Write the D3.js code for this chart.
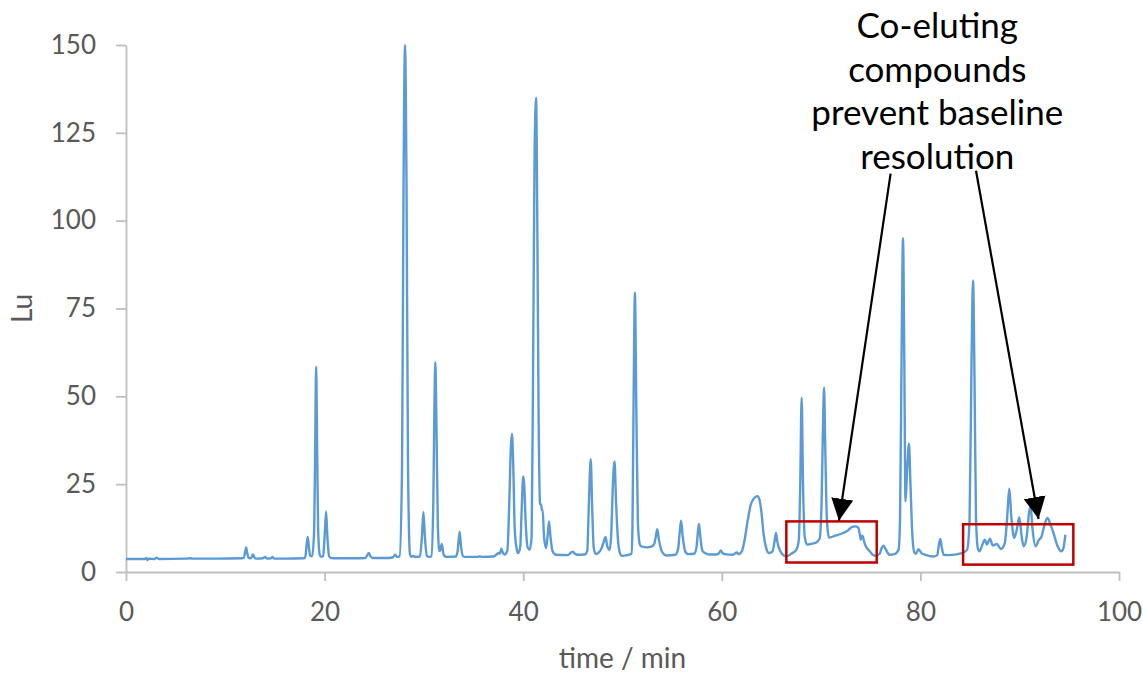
<!DOCTYPE html>
<html>
<head>
<meta charset="utf-8">
<script src="https://cdn.jsdelivr.net/npm/d3@7"></script>
<style>
  body { margin: 0; background: #fff; }
  svg text { font-family: Lato, "Open Sans", sans-serif; }
</style>
</head>
<body>
<div id="chart"></div>
<script>
// Chromatogram trace: [time (min), signal (Lu)]
const trace = [
  [0, 3.7], [1.9, 3.7], [2.05, 4.0], [2.15, 3.4], [2.3, 3.8], [2.9, 3.7], [3.1, 4.1], [3.3, 3.7],
  [6.0, 3.8], [6.5, 3.9], [6.7, 3.8], [9.0, 3.8], [11.7, 3.9],
  [11.85, 4.0], [12.0, 5.8], [12.1, 7.0], [12.2, 5.5], [12.35, 4.0], [12.5, 3.9],
  [12.65, 4.2], [12.78, 5.0], [12.9, 4.3], [13.1, 3.8],
  [13.8, 3.9], [14.0, 4.3], [14.2, 3.8], [14.6, 3.9], [14.75, 4.3], [14.9, 3.8], [16.0, 3.8], [17.9, 3.9],
  [18.05, 4.2], [18.2, 8.0], [18.3, 10.0], [18.42, 7.0], [18.55, 4.6], [18.75, 4.5],
  [18.95, 12], [19.05, 35], [19.15, 58.4], [19.25, 35], [19.35, 12], [19.5, 5.0], [19.65, 4.3],
  [19.85, 4.6], [20.0, 10], [20.15, 17.2], [20.28, 10], [20.45, 4.6], [20.6, 4.0],
  [21.5, 3.9], [23.0, 3.9], [24.1, 4.0], [24.3, 4.8], [24.45, 5.4], [24.6, 4.6], [24.8, 4.0],
  [26.5, 4.0], [26.9, 4.2], [27.1, 4.9], [27.3, 4.3],
  [27.55, 4.5], [27.8, 30], [27.95, 110], [28.1, 150], [28.25, 110], [28.4, 30], [28.6, 5.0],
  [28.75, 4.3], [28.95, 4.6], [29.1, 4.3],
  [29.6, 4.4], [29.8, 10], [29.95, 17.1], [30.1, 10], [30.3, 4.6], [30.5, 4.3],
  [30.75, 4.5], [30.95, 20], [31.05, 45], [31.15, 59.7], [31.25, 45], [31.4, 14], [31.55, 6.0],
  [31.65, 6.2], [31.8, 8.0], [32.0, 4.8], [32.3, 4.3], [33.2, 4.4],
  [33.4, 6.0], [33.6, 11.5], [33.75, 7.0], [33.95, 4.5], [34.2, 4.3], [35.5, 4.3], [35.6, 4.5], [35.8, 4.3],
  [37.0, 4.4], [37.4, 5.2], [37.5, 5.4], [37.65, 5.2], [37.8, 6.6], [37.95, 5.5], [38.1, 5.0],
  [38.4, 6.0], [38.6, 20], [38.75, 35], [38.87, 39.3], [39.0, 30], [39.15, 12], [39.35, 6.5], [39.5, 5.4],
  [39.7, 7.0], [39.85, 18], [40.0, 27.2], [40.1, 25], [40.25, 14], [40.45, 7.0], [40.65, 6.3],
  [40.85, 10], [41.0, 60], [41.15, 120], [41.3, 135], [41.42, 100], [41.55, 45], [41.7, 19.5],
  [41.8, 19.1], [41.88, 17.6], [41.95, 17.8], [42.1, 10], [42.3, 6.8],
  [42.45, 10], [42.6, 14.4], [42.75, 10], [42.95, 6.0], [43.3, 4.9], [44.5, 4.8], [44.8, 5.5], [45.0, 5.8],
  [45.2, 5.2], [45.5, 4.9], [46.2, 5.0],
  [46.45, 6.0], [46.62, 20], [46.8, 32.1], [46.95, 18], [47.1, 7.0], [47.3, 5.1], [47.6, 5.5], [47.9, 6.8],
  [48.1, 8.5], [48.3, 10.0], [48.45, 7.5], [48.7, 6.3],
  [48.85, 10], [49.05, 26], [49.2, 31.5], [49.35, 20], [49.55, 9.0], [49.75, 5.3], [49.9, 4.6], [50.5, 4.8], [50.9, 5.2],
  [51.0, 12], [51.12, 50], [51.25, 79.5], [51.38, 50], [51.55, 14], [51.75, 7.8], [51.9, 7.3], [52.5, 7.0],
  [52.9, 7.2], [53.2, 8.0],
  [53.35, 10], [53.5, 12.2], [53.65, 9.5], [53.9, 6.3], [54.2, 5.0], [54.5, 4.7], [55.3, 4.9],
  [55.6, 6.5], [55.75, 11], [55.9, 14.6], [56.05, 10.5], [56.3, 6.0], [56.6, 5.1], [57.2, 5.2],
  [57.45, 7.0], [57.58, 11], [57.7, 13.7], [57.82, 10.5], [58.05, 6.0], [58.3, 5.4], [58.8, 5.0],
  [59.5, 5.0], [59.7, 5.3], [59.9, 6.1], [60.1, 5.3], [60.5, 5.0], [61.0, 4.9], [61.3, 5.2], [61.5, 5.6],
  [61.7, 5.1], [62.0, 5.8], [62.3, 9.2], [62.6, 14.5], [62.9, 19], [63.2, 20.8], [63.6, 21.6], [63.8, 20.5],
  [64.0, 16.8], [64.2, 11], [64.45, 7.0], [64.75, 5.4], [65.1, 5.8], [65.3, 8.5], [65.46, 11.1], [65.6, 8.5],
  [65.9, 5.9], [66.2, 4.8], [66.5, 4.4], [67.0, 5.2], [67.5, 6.3], [67.75, 9.0],
  [67.9, 25], [68.04, 49.6], [68.18, 25], [68.35, 10], [68.6, 7.8], [69.0, 8.0], [69.5, 8.4], [69.85, 9.5],
  [70.05, 20], [70.18, 40], [70.3, 52.5], [70.42, 35], [70.6, 14], [70.8, 9.8],
  [71.5, 10.4], [72.2, 11.1], [72.7, 11.8], [73.1, 12.8], [73.4, 13.0], [73.7, 12.8], [73.85, 11.5],
  [74.0, 9.2], [74.1, 10.3], [74.2, 10.1], [74.35, 8.5], [74.5, 7.3], [74.7, 6.5], [74.9, 5.9], [75.2, 4.9],
  [75.5, 4.6], [75.9, 5.2], [76.1, 6.8], [76.3, 7.5], [76.5, 6.5], [76.9, 4.9], [77.4, 5.1], [77.8, 6.3],
  [77.95, 15], [78.1, 60], [78.25, 95], [78.38, 60], [78.5, 20.1], [78.65, 28], [78.85, 36.5], [79.0, 25],
  [79.2, 10], [79.4, 5.5], [79.55, 5.2], [79.8, 6.5], [80.1, 5.4], [80.5, 4.9], [81.3, 4.4],
  [81.7, 4.8], [81.85, 7.5], [82.0, 9.4], [82.15, 7.0], [82.35, 4.9], [82.8, 4.8], [84.2, 5.4], [84.7, 6.3],
  [84.95, 15], [85.15, 60], [85.3, 83], [85.45, 55], [85.6, 15], [85.8, 6.5], [85.95, 5.9],
  [86.2, 7.5], [86.5, 9.2], [86.7, 7.8], [87.0, 9.5], [87.3, 7.5], [87.7, 8.0], [88.1, 6.5], [88.5, 8.2],
  [88.75, 16], [88.95, 23.7], [89.15, 16], [89.45, 9.7], [89.7, 12], [89.96, 15.6], [90.2, 10], [90.4, 7.3],
  [90.7, 10], [90.95, 17], [91.1, 18.5], [91.3, 12], [91.6, 7.3], [91.9, 9.0], [92.2, 10.1], [92.5, 13.5],
  [92.8, 15.4], [93.1, 13.5], [93.4, 11.1], [93.8, 7.5], [94.2, 5.9], [94.4, 6.8], [94.6, 10.6]
];

const xTicks = [0, 20, 40, 60, 80, 100];
const yTicks = [0, 25, 50, 75, 100, 125, 150];

// Boxes around the poorly resolved regions: [t0, t1, lu0, lu1]
const boxes = [
  [66.5, 75.6, 2.7, 14.4],
  [84.3, 95.4, 2.1, 13.6]
];

// Arrows from the note down to each box: [tStart, luStart, tEnd, luEnd]
const arrows = [
  [77.0, 113.4, 71.8, 14.6],
  [85.6, 114.2, 91.9, 15.1]
];

const noteLines = ["Co-eluting", "compounds", "prevent baseline", "resolution"];

const width = 1143, height = 675;
const margin = { top: 45, right: 24, bottom: 103, left: 126 };

const svg = d3.select("#chart")
  .append("svg")
  .attr("width", width)
  .attr("height", height);

const x = d3.scaleLinear()
  .domain([0, 100])
  .range([margin.left, width - margin.right]);

const y = d3.scaleLinear()
  .domain([0, 150])
  .range([height - margin.bottom, margin.top]);

const axisColor = "#bfbfbf";
const labelColor = "#595959";

// y axis
const yAxis = svg.append("g")
  .attr("transform", "translate(" + margin.left + ",0)")
  .call(d3.axisLeft(y).tickValues(yTicks).tickSize(10).tickSizeOuter(0).tickPadding(20));

// x axis
const xAxis = svg.append("g")
  .attr("transform", "translate(0," + y(0) + ")")
  .call(d3.axisBottom(x).tickValues(xTicks).tickSize(9).tickSizeOuter(0).tickPadding(22));

[xAxis, yAxis].forEach(function(g) {
  g.select(".domain").attr("stroke", axisColor).attr("stroke-width", 1.8);
  g.selectAll(".tick line").attr("stroke", axisColor).attr("stroke-width", 1.8);
  g.selectAll(".tick text")
    .attr("fill", labelColor)
    .style("font-size", "26px");
});

// axis titles
svg.append("text")
  .attr("x", (x(0) + x(100)) / 2)
  .attr("y", 668)
  .attr("text-anchor", "middle")
  .attr("fill", labelColor)
  .style("font-size", "28px")
  .text("time / min");

svg.append("text")
  .attr("transform", "translate(32," + (y(0) + y(150)) / 2 + ") rotate(-90)")
  .attr("text-anchor", "middle")
  .attr("fill", labelColor)
  .style("font-size", "28px")
  .text("Lu");

// the trace
const line = d3.line()
  .x(function(d) { return x(d[0]); })
  .y(function(d) { return y(d[1]); })
  .curve(d3.curveMonotoneX);

svg.append("path")
  .datum(trace)
  .attr("fill", "none")
  .attr("stroke", "#5b9bd5")
  .attr("stroke-width", 2.4)
  .attr("stroke-linejoin", "round")
  .attr("d", line);

// red boxes
svg.append("g")
  .selectAll("rect")
  .data(boxes)
  .enter()
  .append("rect")
  .attr("x", function(d) { return x(d[0]); })
  .attr("y", function(d) { return y(d[3]); })
  .attr("width", function(d) { return x(d[1]) - x(d[0]); })
  .attr("height", function(d) { return y(d[2]) - y(d[3]); })
  .attr("fill", "none")
  .attr("stroke", "#c00000")
  .attr("stroke-width", 2.5);

// arrow head marker
svg.append("defs")
  .append("marker")
  .attr("id", "head")
  .attr("markerUnits", "userSpaceOnUse")
  .attr("viewBox", "0 0 20 20")
  .attr("refX", 20)
  .attr("refY", 10)
  .attr("markerWidth", 22)
  .attr("markerHeight", 22)
  .attr("orient", "auto")
  .append("path")
  .attr("d", "M0,0L20,10L0,20Z")
  .attr("fill", "#000");

svg.append("g")
  .selectAll("line")
  .data(arrows)
  .enter()
  .append("line")
  .attr("x1", function(d) { return x(d[0]); })
  .attr("y1", function(d) { return y(d[1]); })
  .attr("x2", function(d) { return x(d[2]); })
  .attr("y2", function(d) { return y(d[3]); })
  .attr("stroke", "#000")
  .attr("stroke-width", 2.2)
  .attr("marker-end", "url(#head)");

// note text
svg.append("text")
  .attr("text-anchor", "middle")
  .attr("fill", "#000")
  .style("font-size", "35px")
  .selectAll("tspan")
  .data(noteLines)
  .enter()
  .append("tspan")
  .attr("x", x(81.7))
  .attr("y", function(d, i) { return 38 + i * 43.5; })
  .text(function(d) { return d; });
</script>
</body>
</html>
